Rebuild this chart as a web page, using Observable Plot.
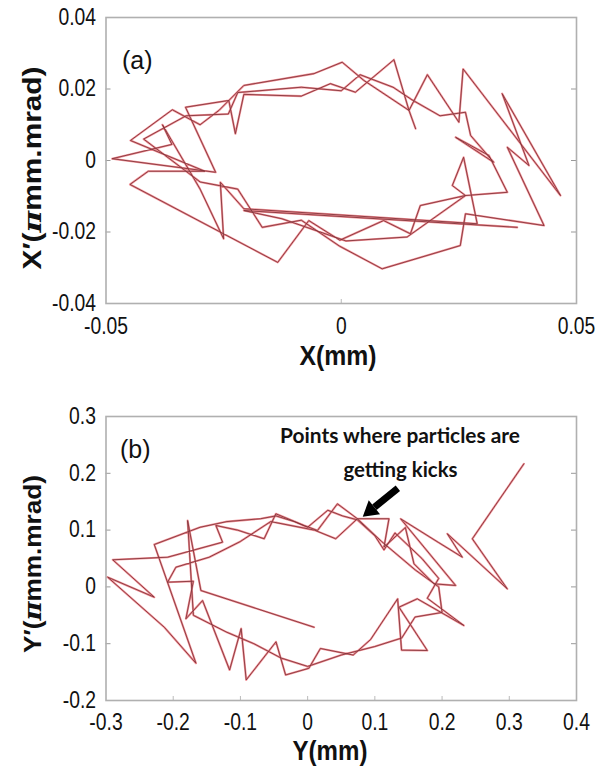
<!DOCTYPE html>
<html><head><meta charset="utf-8">
<script src="https://cdn.jsdelivr.net/npm/d3@7"></script>
<script src="https://cdn.jsdelivr.net/npm/@observablehq/plot@0.6"></script>
<style>
body{margin:0;background:#fff;}
#wrap{width:605px;height:773px;position:relative;overflow:hidden;}
#wrap svg{display:block;}
</style></head><body><div id="wrap"></div>
<script>
// ---- data: panel (a) trajectory in X (mm) / X' (pi mm.mrad)
const trajA = [
[0.0158,0.0089],[0.0144,0.0140],[0.0112,0.0282],[0.0030,0.0191],[-0.0023,0.0215],[-0.0085,0.0180],
[-0.0207,0.0185],[-0.0225,0.0075],[-0.0239,0.0168],[-0.0331,0.0149],[-0.0267,-0.0033],[-0.0487,0.0005],
[-0.0360,0.0045],[-0.0380,0.0100],[-0.0300,-0.0080],[-0.0250,-0.0219],[-0.0257,-0.0061],[-0.0207,-0.0135],
[0.0289,-0.0177],[0.0260,0.0009],[0.0236,-0.0070],[0.0264,-0.0098],[0.0168,-0.0126],[0.0147,-0.0205],
[0.0090,-0.0168],[-0.0003,-0.0223],[-0.0069,-0.0168],[-0.0135,-0.0285],[-0.0449,-0.0067],[-0.0410,-0.0030],
[-0.0290,-0.0030],[-0.0448,0.0056],[-0.0359,0.0142],[-0.0300,0.0100],[-0.0260,0.0140],[-0.0207,0.0210],
[-0.0058,0.0243],[0.0002,0.0275],[0.0048,0.0224],[0.0144,0.0140],[0.0183,0.0240],[0.0250,0.0107],
[0.0259,0.0256],[0.0466,-0.0098],[0.0342,0.0187],[0.0399,-0.0014],[0.0353,0.0037],[0.0431,-0.0182],
[0.0264,-0.0149],[0.0253,-0.0238],[0.0087,-0.0303],[-0.0003,-0.0240],[-0.0085,-0.0167],[-0.0168,-0.0187],
[-0.0220,-0.0080],[-0.0300,-0.0060],[-0.0380,0.0020],[-0.0420,0.0060],[-0.0330,0.0125],[-0.0240,0.0130],
[-0.0220,0.0190],[-0.0085,0.0205],[0.0000,0.0195],[0.0040,0.0240],[0.0110,0.0205],[0.0150,0.0170],
[0.0210,0.0125],[0.0264,0.0135],[0.0275,0.0070],[0.0324,-0.0005],[0.0243,0.0065],[0.0314,0.0014],
[0.0353,-0.0089],[0.0264,-0.0098],[0.0140,-0.0214],[0.0010,-0.0225],[-0.0126,-0.0163],[-0.0207,-0.0140],
[0.0374,-0.0187]
];
// ---- data: panel (b) trajectory in Y (mm) / Y' (pi mm.mrad)
const trajB = [
[0.3217,0.2167],[0.2450,0.0847],[0.2970,-0.0034],[0.2078,0.0935],[0.2301,0.0523],[0.1950,0.0780],
[0.1384,0.1199],[0.2202,0.0025],[0.1880,0.0054],[0.1582,0.0407],[0.1454,0.1045],[0.1136,0.0700],
[0.1210,0.1200],[0.0740,0.1200],[0.0443,0.1463],[0.0146,0.0993],[-0.0050,0.1080],[-0.0473,0.1287],
[-0.0647,0.0847],[-0.1043,0.1000],[-0.1365,0.1081],[-0.1266,0.0787],[-0.2083,0.0523],[-0.2900,0.0477],
[-0.2282,-0.0181],[-0.2975,0.0171],[-0.2133,-0.0710],[-0.1662,-0.1343],[-0.2282,0.0746],[-0.1600,0.1050],
[-0.1200,0.1150],[-0.0700,0.1200],[-0.0470,0.1250],[-0.0200,0.1150],[0.0000,0.1050],[0.0300,0.1350],
[0.0520,0.1250],[0.0740,0.1180],[0.1000,0.0900],[0.1136,0.0650],[0.1300,0.0950],[0.1700,0.0500],
[0.1950,0.0150],[0.1780,-0.0200],[0.2325,-0.0680],[0.1632,-0.0210],[0.1359,-0.0357],[0.1781,-0.1120],
[0.1397,-0.1113],[0.1339,-0.0209],[0.0937,-0.0926],[0.0678,-0.1200],[0.0190,-0.1084],[0.0017,-0.1434],
[-0.0328,-0.1550],[-0.0471,-0.0967],[-0.0914,-0.1638],[-0.0989,-0.0734],[-0.1161,-0.1463],[-0.1563,-0.0240],
[-0.1811,-0.0562],[-0.1700,0.0100],[-0.2083,0.0083],[-0.1960,0.0347],[-0.1465,0.0523],[-0.1000,0.0800],
[-0.0550,0.1150],[0.0100,0.1000],[0.0418,0.0847],[0.0740,0.1200],[0.1100,0.0800],[0.1600,0.0300],
[0.1950,0.0000],[0.2000,-0.0450],[0.1598,-0.0530],[0.1400,-0.0900],[0.1000,-0.1050],[0.0500,-0.1200],
[0.0000,-0.1400],[-0.0400,-0.1250],[-0.0800,-0.1000],[-0.1200,-0.0800],[-0.1700,-0.0500],[-0.1786,0.1169],
[-0.1588,-0.0064],[0.0096,-0.0710]
];
// ---- axes
const xDomainA = [-0.05, 0.05], yDomainA = [-0.04, 0.04];
const xTicksA = [-0.05, 0, 0.05], xTickLabelsA = ["-0.05", "0", "0.05"];
const yTicksA = [-0.04, -0.02, 0, 0.02, 0.04], yTickLabelsA = ["-0.04", "-0.02", "0", "0.02", "0.04"];
const xDomainB = [-0.3, 0.4], yDomainB = [-0.2, 0.3];
const xTicksB = [-0.3, -0.2, -0.1, 0, 0.1, 0.2, 0.3, 0.4];
const xTickLabelsB = ["-0.3", "-0.2", "-0.1", "0", "0.1", "0.2", "0.3", "0.4"];
const yTicksB = [-0.2, -0.1, 0, 0.1, 0.2, 0.3];
const yTickLabelsB = ["-0.2", "-0.1", "0", "0.1", "0.2", "0.3"];
// ---- texts
const panelLabels = ["(a)", "(b)"];
const xTitles = ["X(mm)", "Y(mm)"];
const yTitleLetters = ["X", "Y"];
const noteLines = ["Points where particles are", "getting kicks"];
const arrowB = {x1: 0.135, y1: 0.1727, x2: 0.0827, y2: 0.1227};

const W = 605, ML = 105.5, MR = 29;
const FONT = "'Liberation Sans', Arial, Helvetica, sans-serif";

function panel(o) {
  const fmtX = new Map(o.xTicks.map((d, i) => [d, o.xLabels[i]]));
  const fmtY = new Map(o.yTicks.map((d, i) => [d, o.yLabels[i]]));
  const pw = W - ML - MR, ph = o.height - o.mt - o.mb;
  const innerY = o.yTicks.slice(1, -1), innerX = o.xTicks.slice(1, -1);
  return Plot.plot({
    width: W, height: o.height,
    marginLeft: ML, marginRight: MR, marginTop: o.mt, marginBottom: o.mb,
    x: {domain: o.xDomain}, y: {domain: o.yDomain},
    style: {fontFamily: FONT, fontSize: "23px", background: "#fff", color: "#111"},
    marks: [
      Plot.tickY(innerY, {y: d => d, insetRight: pw - 5, stroke: "#999", strokeWidth: 1}),
      Plot.tickY(innerY, {y: d => d, insetLeft: pw - 5, stroke: "#999", strokeWidth: 1}),
      Plot.tickX(innerX, {x: d => d, insetTop: ph - 4, stroke: "#bbb", strokeWidth: 1}),
      Plot.frame({stroke: "#b0b0b0", strokeWidth: 1.6}),
      Plot.axisY(o.yTicks, {tickSize: 0, tickPadding: 10, fontSize: 23, label: null, tickFormat: d => fmtY.get(d)}),
      Plot.axisX(o.xTicks, {tickSize: 0, tickPadding: o.xpad, fontSize: 23, label: null, tickFormat: d => fmtX.get(d)}),
      Plot.line(o.traj, {x: d => d[0], y: d => d[1], stroke: "#e4202c", strokeWidth: 2.1, strokeOpacity: 0.5}),
      Plot.line(o.traj, {x: d => d[0], y: d => d[1], stroke: "#7e3238", strokeWidth: 0.85})
    ]
  });
}

function condense(sel, f) {
  sel.each(function() {
    const L = this.getComputedTextLength();
    if (L > 0) { this.setAttribute("textLength", (L * f).toFixed(1)); this.setAttribute("lengthAdjust", "spacingAndGlyphs"); }
  });
}

function addTitles(svg, o) {
  const s = d3.select(svg);
  condense(s.selectAll("g[aria-label='x-axis tick label'] text, g[aria-label='y-axis tick label'] text"), 0.84);
  s.append("text").attr("x", o.labX).attr("y", o.labY).attr("text-anchor", "start")
    .attr("font-family", FONT).attr("font-size", 25).attr("fill", "#111").text(o.panelLabel);
  s.append("text").attr("x", o.xtX).attr("y", o.xtY).attr("text-anchor", "middle")
    .attr("font-family", FONT).attr("font-weight", "bold").attr("font-size", 28).attr("fill", "#111")
    .attr("textLength", o.xtLen).attr("lengthAdjust", "spacingAndGlyphs").text(o.xTitle);
  const t = s.append("text").attr("transform", `translate(${o.ytX},${o.ytY}) rotate(-90)`)
    .attr("text-anchor", "middle").attr("font-family", FONT).attr("font-weight", "bold")
    .attr("font-size", o.ytSize).attr("fill", "#111")
    .attr("textLength", o.ytLen).attr("lengthAdjust", "spacingAndGlyphs");
  t.append("tspan").text(o.yLetter + "\u2032(");
  t.append("tspan").attr("font-family", "'DejaVu Serif', serif").attr("font-style", "italic").text("\u03c0");
  t.append("tspan").text("mm.mrad)");
}

const wrap = document.getElementById("wrap");

const pa = panel({traj: trajA, xDomain: xDomainA, yDomain: yDomainA, xTicks: xTicksA, xLabels: xTickLabelsA,
  yTicks: yTicksA, yLabels: yTickLabelsA, height: 380, mt: 17, mb: 77, xpad: 14});
pa.style.position = "absolute"; pa.style.left = "0px"; pa.style.top = "0px";
wrap.appendChild(pa);
addTitles(pa, {panelLabel: panelLabels[0], labX: 122, labY: 69, xTitle: xTitles[0], xtX: 338, xtY: 365, xtLen: 77,
  yLetter: yTitleLetters[0], ytX: 41, ytY: 168, ytSize: 25, ytLen: 203});

const pb = panel({traj: trajB, xDomain: xDomainB, yDomain: yDomainB, xTicks: xTicksB, xLabels: xTickLabelsB,
  yTicks: yTicksB, yLabels: yTickLabelsB, height: 393, mt: 36, mb: 73, xpad: 13});
pb.style.position = "absolute"; pb.style.left = "0px"; pb.style.top = "380px";
wrap.appendChild(pb);
addTitles(pb, {panelLabel: panelLabels[1], labX: 120, labY: 78, xTitle: xTitles[1], xtX: 330, xtY: 380, xtLen: 75,
  yLetter: yTitleLetters[1], ytX: 41, ytY: 184, ytSize: 24, ytLen: 178});

// annotation in panel (b)
{
  const s = d3.select(pb);
  const sx = pb.scale("x"), sy = pb.scale("y");
  const note = s.append("g").attr("font-family", "Lato, 'Open Sans', sans-serif").attr("font-weight", "bold")
    .attr("font-size", 21).attr("fill", "#111").attr("text-anchor", "middle");
  note.append("text").attr("x", 400).attr("y", 63).attr("textLength", 240).attr("lengthAdjust", "spacingAndGlyphs").text(noteLines[0]);
  note.append("text").attr("x", 400.5).attr("y", 97).attr("textLength", 114).attr("lengthAdjust", "spacingAndGlyphs").text(noteLines[1]);
  const x1 = sx.apply(arrowB.x1), y1 = sy.apply(arrowB.y1), x2 = sx.apply(arrowB.x2), y2 = sy.apply(arrowB.y2);
  const ang = Math.atan2(y2 - y1, x2 - x1), hl = 15, hw = 9;
  const bx = x2 - hl * Math.cos(ang), by = y2 - hl * Math.sin(ang);
  s.append("line").attr("x1", x1).attr("y1", y1).attr("x2", bx).attr("y2", by)
    .attr("stroke", "#000").attr("stroke-width", 7);
  const px = -Math.sin(ang), py = Math.cos(ang);
  s.append("polygon").attr("points", [[x2, y2], [bx + px * hw, by + py * hw], [bx - px * hw, by - py * hw]].map(p => p.join(",")).join(" "))
    .attr("fill", "#000");
}
</script></body></html>
